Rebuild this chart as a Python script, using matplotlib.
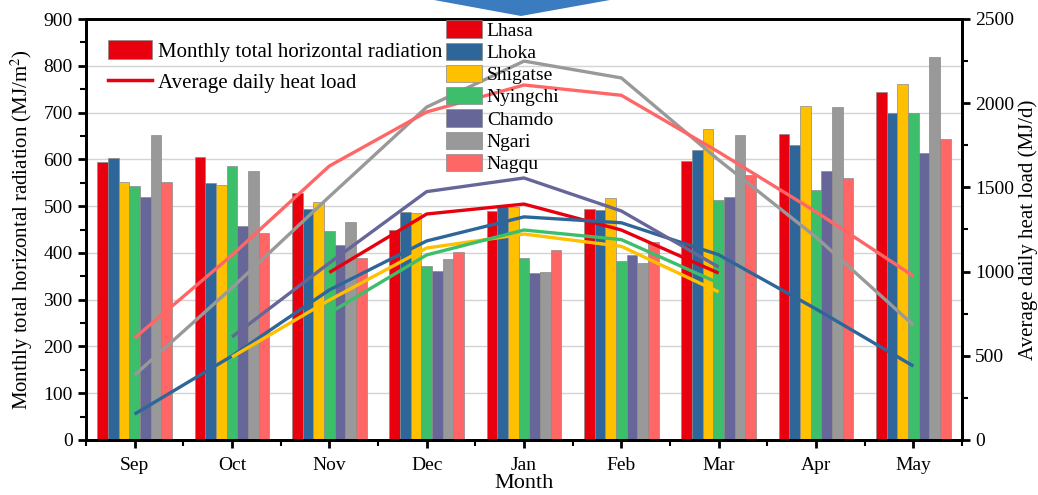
import numpy as np
import matplotlib
matplotlib.use('Agg')
import matplotlib.pyplot as plt
from matplotlib.patches import Patch, Polygon
from matplotlib.lines import Line2D
from matplotlib.ticker import MultipleLocator

plt.rcParams['font.family'] = ['Liberation Serif', 'DejaVu Serif']
plt.rcParams['mathtext.fontset'] = 'stix'

months = ['Sep', 'Oct', 'Nov', 'Dec', 'Jan', 'Feb', 'Mar', 'Apr', 'May']
stations = ['Lhasa', 'Lhoka', 'Shigatse', 'Nyingchi', 'Chamdo', 'Ngari', 'Nagqu']
colors = ['#E8000F', '#2F6699', '#FFC000', '#3DBE6B', '#666699', '#999999', '#FF6666']

# monthly total horizontal radiation (MJ/m2)
rad_lhasa = [594, 606, 527, 450, 489, 493, 597, 654, 743]
rad_lhoka = [602, 549, 494, 487, 502, 492, 619, 631, 698]
rad_shigatse = [552, 546, 509, 486, 499, 517, 664, 714, 760]
rad_nyingchi = [543, 586, 446, 373, 390, 383, 513, 535, 700]
rad_chamdo = [519, 457, 417, 361, 358, 396, 519, 575, 613]
rad_ngari = [652, 575, 466, 388, 359, 378, 651, 711, 818]
rad_nagqu = [552, 443, 390, 402, 406, 423, 567, 560, 644]

# average daily heat load (MJ/d), nan = no heating that month
nan = np.nan
load_lhasa = [nan, nan, 995, 1342, 1401, 1247, 991, nan, nan]
load_lhoka = [154, 499, 891, 1182, 1325, 1290, 1100, 778, 439]
load_shigatse = [nan, 493, 831, 1140, 1223, 1150, 879, nan, nan]
load_nyingchi = [nan, nan, 754, 1099, 1247, 1190, 932, nan, nan]
load_chamdo = [nan, 612, 1051, 1475, 1556, 1360, 1027, nan, nan]
load_ngari = [386, 904, 1445, 1977, 2250, 2150, 1663, 1205, 683]
load_nagqu = [606, 1098, 1627, 1948, 2108, 2047, 1710, 1355, 974]

rad = [rad_lhasa, rad_lhoka, rad_shigatse, rad_nyingchi, rad_chamdo, rad_ngari, rad_nagqu]
load = [load_lhasa, load_lhoka, load_shigatse, load_nyingchi, load_chamdo, load_ngari, load_nagqu]

fig = plt.figure(figsize=(10.38, 4.95), dpi=100)
ax = fig.add_axes([86/1038, 55/495, 876/1038, 421/495])
ax2 = ax.twinx()

x = np.arange(len(months))
w = 0.11
for i, (vals, c) in enumerate(zip(rad, colors)):
    ax.bar(x + (i - 3) * w, vals, w, color=c, edgecolor='#8a8a8a', linewidth=0.5, zorder=2)

for vals, c in zip(load, colors):
    ax2.plot(x, vals, color=c, lw=2.4, solid_capstyle='butt', solid_joinstyle='round')

ax.set_xlim(-0.5, 8.5)
ax.set_ylim(0, 900)
ax2.set_ylim(0, 2500)
ax.set_xticks(x)
ax.set_xticklabels(months)
ax.xaxis.set_minor_locator(MultipleLocator(0.5))
ax.yaxis.set_major_locator(MultipleLocator(100))
ax.yaxis.set_minor_locator(MultipleLocator(50))
ax2.yaxis.set_major_locator(MultipleLocator(500))
ax2.yaxis.set_minor_locator(MultipleLocator(250))
ax.set_axisbelow(True)
ax.grid(axis='y', color='#d4d4d4', lw=1.0, zorder=0)

for a in (ax, ax2):
    for s in a.spines.values():
        s.set_linewidth(2)
    a.tick_params(which='major', length=6, width=2, labelsize=14, direction='out')
    a.tick_params(which='minor', length=4, width=1.5, direction='out')
ax.tick_params(axis='x', which='both', top=False)
ax.tick_params(axis='x', pad=6)

ax.set_xlabel('Month', fontsize=16, labelpad=0)
ax.set_ylabel('Monthly total horizontal radiation (MJ/m$^2$)', fontsize=15, labelpad=6)
ax2.set_ylabel('Average daily heat load (MJ/d)', fontsize=15, labelpad=3)

h1 = [Patch(facecolor=colors[0], edgecolor='#8a8a8a', lw=0.5),
      Line2D([], [], color=colors[0], lw=2.5)]
leg1 = ax2.legend(h1, ['Monthly total horizontal radiation', 'Average daily heat load'],
                  loc='upper left', bbox_to_anchor=(0.025, 0.95), frameon=False,
                  fontsize=15, handlelength=2.1, handleheight=1.0, labelspacing=0.5,
                  handletextpad=0.3, borderpad=0, borderaxespad=0)
ax2.add_artist(leg1)
h2 = [Patch(facecolor=c, edgecolor='#8a8a8a', lw=0.5) for c in colors]
ax2.legend(h2, stations, loc='upper left', bbox_to_anchor=(0.411, 0.997), frameon=False,
           fontsize=14, handlelength=1.85, handleheight=1.0, labelspacing=0.15,
           handletextpad=0.25, borderpad=0, borderaxespad=0)

# blue arrow tip cut off at the top
fig.patches.append(Polygon([(434/1038, 1.0), (610/1038, 1.0), (521/1038, 1 - 16/495)],
                           closed=True, transform=fig.transFigure, facecolor='#3b7cc0',
                           edgecolor='none'))

fig.savefig('out.png', dpi=100)
